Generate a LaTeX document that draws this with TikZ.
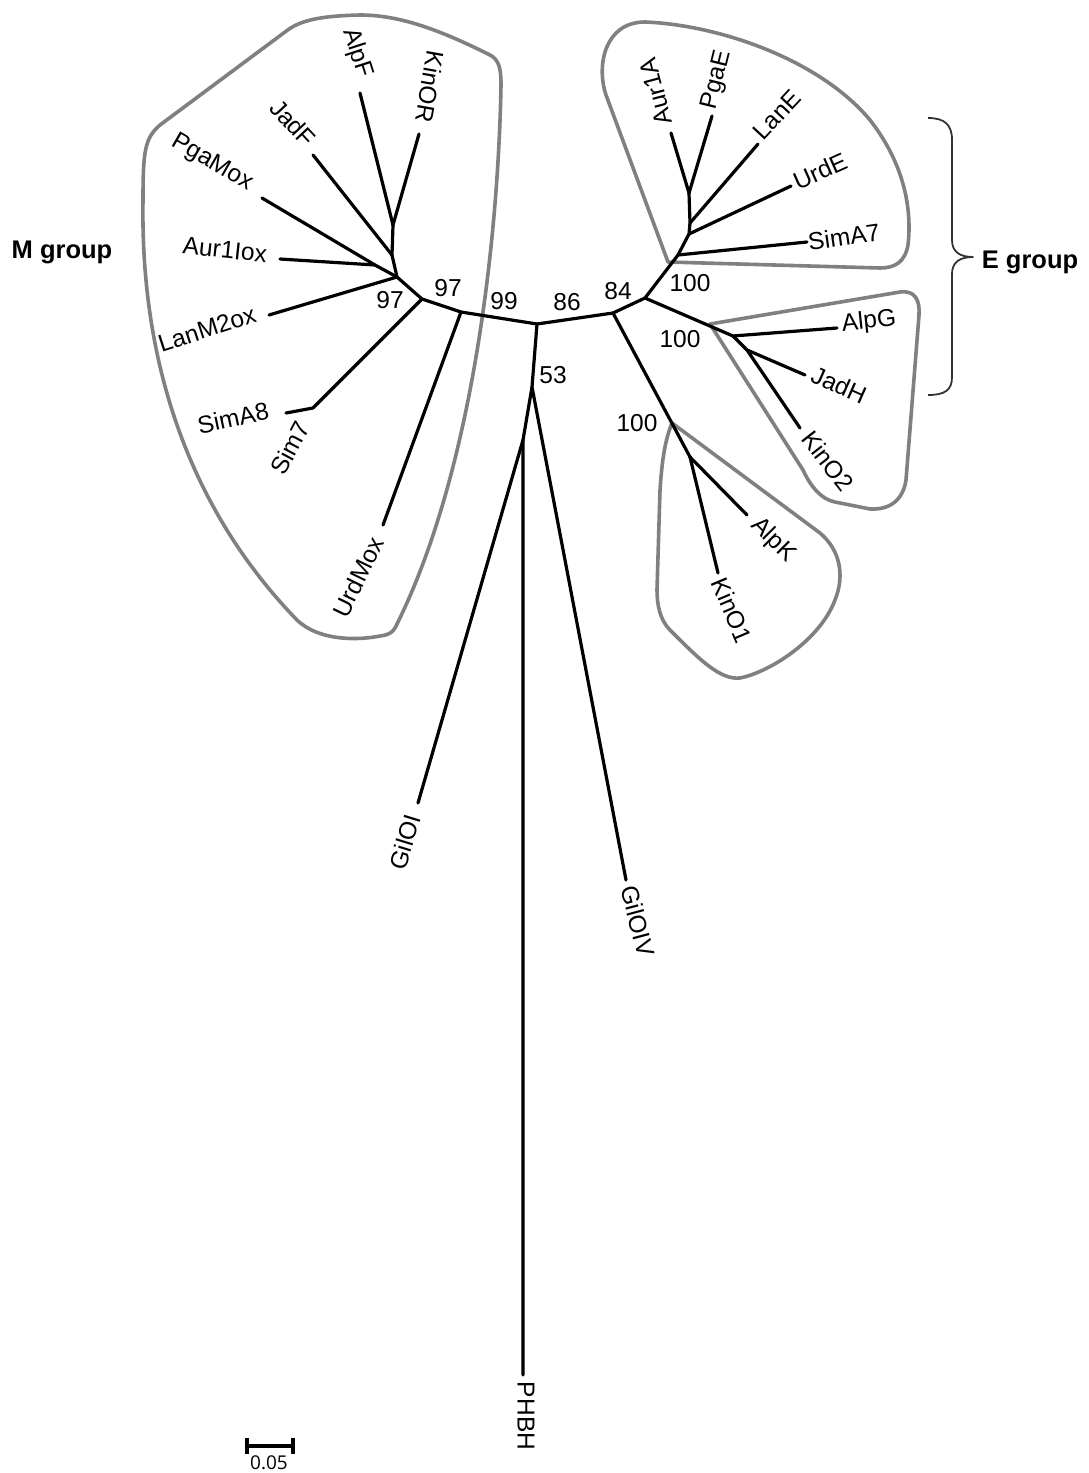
\documentclass[tikz,border=0pt]{standalone}
\usepackage{fontspec}
\setmainfont{Liberation Sans}
\newfontfamily\scalefont{Open Sans}
\begin{document}
\begin{tikzpicture}[x=1pt,y=-1pt,
  br/.style={line width=3.2pt,black,line join=round,line cap=round},
  grp/.style={line width=3.6pt,draw=black!50,line join=round},
  tip/.style={inner sep=0pt,font=\fontsize{24.5}{28}\selectfont},
  bs/.style={inner sep=0pt,font=\fontsize{24.5}{28}\selectfont},
  grouplab/.style={inner sep=0pt,font=\fontsize{25.5}{29}\selectfont\bfseries}]
\useasboundingbox (0,0) rectangle (1089,1473);
% ---- group outlines ----
\draw[grp] (143,200) .. controls (143,150) and (145,138) .. (160,125) -- (285,32)
  .. controls (300,20) and (320,16) .. (360,15) .. controls (400,15) and (440,30) .. (490,55)
  .. controls (499,60) and (501,68) .. (501,85)
  .. controls (498,250) and (470,480) .. (395,628)
  .. controls (392,633) and (388,635) .. (380,636)
  .. controls (360,640) and (320,642) .. (297,620)
  .. controls (200,520) and (140,380) .. (143,200) -- cycle;
\draw[grp] (668,262) -- (606,95) .. controls (596,65) and (605,22) .. (645,22)
  .. controls (720,25) and (820,60) .. (870,120)
  .. controls (905,165) and (912,210) .. (908,245)
  .. controls (905,262) and (895,268) .. (880,268) -- cycle;
\draw[grp] (710,324) -- (900,292) .. controls (915,290) and (920,300) .. (919,315)
  -- (906,480) .. controls (903,500) and (890,510) .. (870,509)
  -- (835,502) .. controls (820,499) and (810,485) .. (803,470) -- cycle;
\draw[grp] (672,423) -- (820,533) .. controls (840,550) and (845,575) .. (835,600)
  .. controls (820,640) and (770,672) .. (740,678)
  .. controls (720,680) and (700,660) .. (670,630)
  .. controls (660,620) and (657,605) .. (657,590) -- (660,490)
  .. controls (662,460) and (665,440) .. (672,423) -- cycle;
% ---- internal nodes ----
\coordinate (O) at (537,324);
\coordinate (n99) at (461,312);
\coordinate (n97) at (422,299);
\coordinate (A) at (397,277);
\coordinate (B) at (392,255);
\coordinate (C) at (393,225);
\coordinate (D) at (375,265);
\coordinate (S) at (313,408);
\coordinate (n53) at (532,387);
\coordinate (n53b) at (523,440);
\coordinate (n86) at (613,313);
\coordinate (n84) at (645,298);
\coordinate (E1) at (678,255);
\coordinate (E1b) at (689,234);
\coordinate (E1c) at (690,223);
\coordinate (E1d) at (689,193);
\coordinate (E2) at (733,336);
\coordinate (E2b) at (747,350);
\coordinate (E3) at (690,457);
% ---- tips ----
\coordinate (tAlpF) at (360,93);
\coordinate (tKinOR) at (419,134);
\coordinate (tJadF) at (313,155);
\coordinate (tPgaMox) at (262,198);
\coordinate (tAur1Iox) at (280,259);
\coordinate (tLanM2ox) at (269,315);
\coordinate (tSimA8) at (286,413);
\coordinate (tUrdMox) at (383,525);
\coordinate (tGilOI) at (418,803);
\coordinate (tGilOIV) at (626,880);
\coordinate (tPHBH) at (523,1375);
\coordinate (tAur1A) at (671,133);
\coordinate (tPgaE) at (712,116);
\coordinate (tLanE) at (758,144);
\coordinate (tUrdE) at (791,186);
\coordinate (tSimA7) at (807,242);
\coordinate (tAlpG) at (837,328);
\coordinate (tJadH) at (805,375);
\coordinate (tKinO2) at (800,428);
\coordinate (tAlpK) at (747,515);
\coordinate (tKinO1) at (718,573);
% ---- branches ----
\draw[br] (O) -- (n99) -- (n97) -- (A) -- (B) -- (C);
\draw[br] (C) -- (tAlpF);
\draw[br] (C) -- (tKinOR);
\draw[br] (B) -- (tJadF);
\draw[br] (A) -- (D) -- (tPgaMox);
\draw[br] (D) -- (tAur1Iox);
\draw[br] (A) -- (tLanM2ox);
\draw[br] (n97) -- (S) -- (tSimA8);
\draw[br] (n99) -- (tUrdMox);
\draw[br] (O) -- (n53) -- (n53b) -- (tPHBH);
\draw[br] (n53b) -- (tGilOI);
\draw[br] (n53) -- (tGilOIV);
\draw[br] (O) -- (n86) -- (n84) -- (E1) -- (E1b) -- (E1c) -- (E1d);
\draw[br] (E1) -- (tSimA7);
\draw[br] (E1b) -- (tUrdE);
\draw[br] (E1c) -- (tLanE);
\draw[br] (E1d) -- (tAur1A);
\draw[br] (E1d) -- (tPgaE);
\draw[br] (n84) -- (E2) -- (E2b) -- (tKinO2);
\draw[br] (E2) -- (tAlpG);
\draw[br] (E2b) -- (tJadH);
\draw[br] (n86) -- (E3) -- (tAlpK);
\draw[br] (E3) -- (tKinO1);
% ---- tip labels ----
\node[tip,rotate=-72] (lAlpF) at (357,53) {AlpF};
\node[tip,rotate=-100] (lKinOR) at (430,87) {KinOR};
\node[tip,rotate=-47] (lJadF) at (293,123) {JadF};
\node[tip,rotate=-30] (lPgaMox) at (212,163) {PgaMox};
\node[tip,rotate=-6] (lAur1Iox) at (225,250) {Aur1Iox};
\node[tip,rotate=18] (lLanM2ox) at (207,329) {LanM2ox};
\node[tip,rotate=12] (lSimA8) at (233,418) {SimA8};
\node[tip,rotate=62] (lSim7) at (290,448) {Sim7};
\node[tip,rotate=64] (lUrdMox) at (358,577) {UrdMox};
\node[tip,rotate=73] (lGilOI) at (405,842) {GilOI};
\node[tip,rotate=-75] (lGilOIV) at (638,921) {GilOIV};
\node[tip,rotate=-90] (lPHBH) at (526,1416) {PHBH};
\node[tip,rotate=105] (lAur1A) at (656,92) {Aur1A};
\node[tip,rotate=76] (lPgaE) at (717,80) {PgaE};
\node[tip,rotate=47] (lLanE) at (777,115) {LanE};
\node[tip,rotate=24] (lUrdE) at (820,171) {UrdE};
\node[tip,rotate=8] (lSimA7) at (844,237) {SimA7};
\node[tip,rotate=6] (lAlpG) at (869,322) {AlpG};
\node[tip,rotate=-24] (lJadH) at (839,385) {JadH};
\node[tip,rotate=-52] (lKinO2) at (828,461) {KinO2};
\node[tip,rotate=-45] (lAlpK) at (773,540) {AlpK};
\node[tip,rotate=-67] (lKinO1) at (732,610) {KinO1};
% ---- bootstrap values ----
\node[bs] (b97a) at (390,300) {97};
\node[bs] (b97b) at (448,288) {97};
\node[bs] (b99) at (504,301) {99};
\node[bs] (b86) at (567,302) {86};
\node[bs] (b84) at (618,291) {84};
\node[bs] (b53) at (553,375) {53};
\node[bs] (b100a) at (690,283) {100};
\node[bs] (b100b) at (680,339) {100};
\node[bs] (b100c) at (637,423) {100};
% ---- group labels ----
\node[grouplab] (mgroup) at (62,252) {M group};
\draw[line width=1.8pt,black!80,line join=round]
  (928,118) .. controls (945,118) and (952,125) .. (952,140) -- (952,240)
  .. controls (952,252) and (960,257) .. (973,257)
  .. controls (960,257) and (952,262) .. (952,274) -- (952,377)
  .. controls (952,390) and (945,395) .. (928,395);
\node[grouplab] (egroup) at (1030,262) {E group};
% ---- scale bar ----
\coordinate (sb1) at (247,1446);
\coordinate (sb2) at (293,1446);
\draw[line width=3.2pt] (sb1) -- (sb2);
\draw[line width=3.2pt] ([yshift=8pt]sb1) -- ([yshift=-8pt]sb1);
\draw[line width=3.2pt] ([yshift=8pt]sb2) -- ([yshift=-8pt]sb2);
\node[inner sep=0pt,font=\scalefont\fontsize{19}{21}\selectfont] (sblab) at (269,1463) {0.05};
\end{tikzpicture}
\end{document}
